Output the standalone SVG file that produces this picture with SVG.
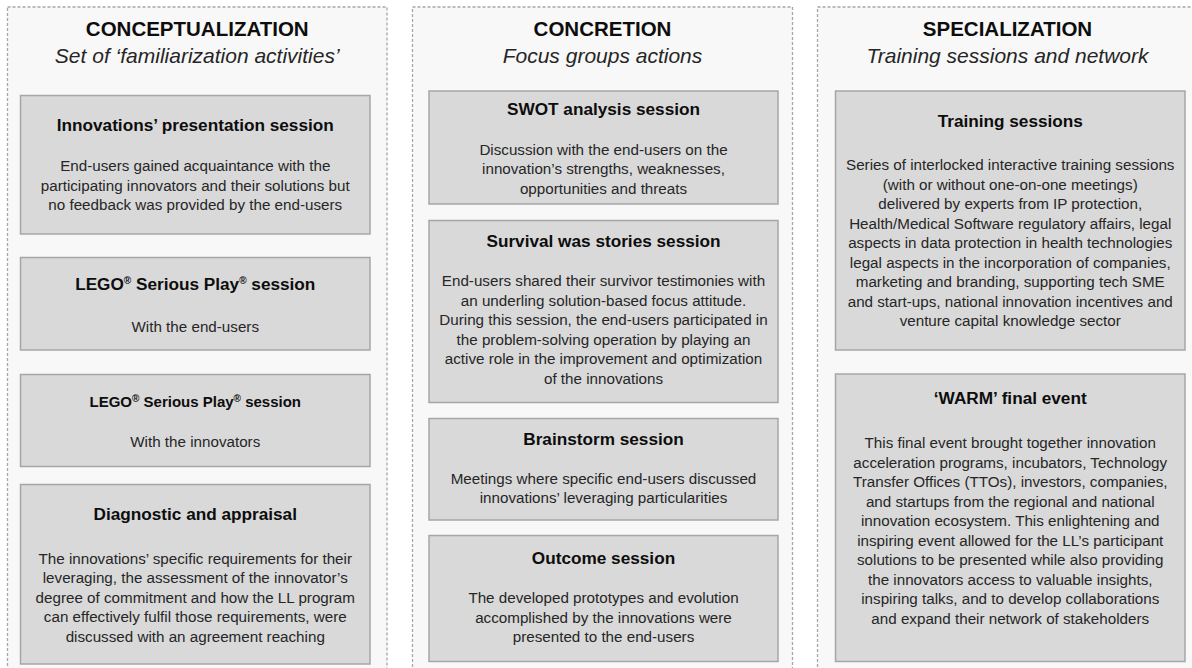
<svg xmlns="http://www.w3.org/2000/svg" width="1192" height="668" viewBox="0 0 1192 668">
<style>
.col{fill:#f8f8f8;stroke:#a6a6a6;stroke-width:1.3;stroke-dasharray:3 2}
.box{fill:#d9d9d9;stroke:#a6a6a6;stroke-width:1.5}
text{font-family:"Liberation Sans",Arial,sans-serif;text-anchor:middle;fill:#1a1a1a}
.h{font-size:20.5px;font-weight:bold;fill:#0d0d0d}
.s{font-size:21px;font-style:italic;fill:#262626}
.t{font-size:17.2px;font-weight:bold;fill:#0d0d0d}
.t2{font-size:15px;font-weight:bold;fill:#0d0d0d}
.b{font-size:15.2px;fill:#262626}
.r{font-size:10px}
</style>
<rect width="1192" height="668" fill="#ffffff"/>
<g id="col-conceptualization">
<rect class="col" x="7.5" y="7" width="379.5" height="670"/>
<text class="h" x="197.25" y="36">CONCEPTUALIZATION</text>
<text class="s" x="197.25" y="63">Set of ‘familiarization activities’</text>
</g>
<g id="col-concretion">
<rect class="col" x="412.5" y="7" width="380" height="670"/>
<text class="h" x="602.5" y="36">CONCRETION</text>
<text class="s" x="602.5" y="63">Focus groups actions</text>
</g>
<g id="col-specialization">
<rect class="col" x="817.5" y="7" width="380" height="670"/>
<text class="h" x="1007.5" y="36">SPECIALIZATION</text>
<text class="s" x="1007.5" y="63">Training sessions and network</text>
</g>
<g id="connectors"></g>
<g id="n-innovations-presentation">
<rect class="box" x="20.5" y="95.5" width="349.5" height="138.5"/>
<text class="t" x="195.25" y="130.5">Innovations’ presentation session</text>
<text class="b" x="195.25" y="171">End-users gained acquaintance with the</text>
<text class="b" x="195.25" y="190.5">participating innovators and their solutions but</text>
<text class="b" x="195.25" y="210">no feedback was provided by the end-users</text>
</g>
<g id="n-lego-endusers">
<rect class="box" x="20.5" y="257.5" width="349.5" height="92.5"/>
<text class="t" x="195.25" y="290">LEGO<tspan class="r" dy="-6">®</tspan><tspan dy="6"> Serious Play</tspan><tspan class="r" dy="-6">®</tspan><tspan dy="6"> session</tspan></text>
<text class="b" x="195.25" y="332">With the end-users</text>
</g>
<g id="n-lego-innovators">
<rect class="box" x="20.5" y="374.5" width="349.5" height="92"/>
<text class="t2" x="195.25" y="406.5">LEGO<tspan class="r" font-size="9" dy="-5">®</tspan><tspan dy="5"> Serious Play</tspan><tspan class="r" font-size="9" dy="-5">®</tspan><tspan dy="5"> session</tspan></text>
<text class="b" x="195.25" y="447">With the innovators</text>
</g>
<g id="n-diagnostic">
<rect class="box" x="20.5" y="484.5" width="349.5" height="179.5"/>
<text class="t" x="195.25" y="519.5">Diagnostic and appraisal</text>
<text class="b" x="195.25" y="563.5">The innovations’ specific requirements for their</text>
<text class="b" x="195.25" y="583">leveraging, the assessment of the innovator’s</text>
<text class="b" x="195.25" y="602.5">degree of commitment and how the LL program</text>
<text class="b" x="195.25" y="622">can effectively fulfil those requirements, were</text>
<text class="b" x="195.25" y="641.5">discussed with an agreement reaching</text>
</g>
<g id="n-swot">
<rect class="box" x="429" y="91" width="349" height="113"/>
<text class="t" x="603.5" y="114.5">SWOT analysis session</text>
<text class="b" x="603.5" y="154.5">Discussion with the end-users on the</text>
<text class="b" x="603.5" y="174">innovation’s strengths, weaknesses,</text>
<text class="b" x="603.5" y="193.5">opportunities and threats</text>
</g>
<g id="n-survival">
<rect class="box" x="429" y="220.5" width="349" height="182"/>
<text class="t" x="603.5" y="247">Survival was stories session</text>
<text class="b" x="603.5" y="286">End-users shared their survivor testimonies with</text>
<text class="b" x="603.5" y="305.5">an underling solution-based focus attitude.</text>
<text class="b" x="603.5" y="325">During this session, the end-users participated in</text>
<text class="b" x="603.5" y="344.5">the problem-solving operation by playing an</text>
<text class="b" x="603.5" y="364">active role in the improvement and optimization</text>
<text class="b" x="603.5" y="383.5">of the innovations</text>
</g>
<g id="n-brainstorm">
<rect class="box" x="429" y="418.5" width="349" height="101.5"/>
<text class="t" x="603.5" y="445">Brainstorm session</text>
<text class="b" x="603.5" y="483.5">Meetings where specific end-users discussed</text>
<text class="b" x="603.5" y="503">innovations’ leveraging particularities</text>
</g>
<g id="n-outcome">
<rect class="box" x="429" y="535.5" width="349" height="126"/>
<text class="t" x="603.5" y="564">Outcome session</text>
<text class="b" x="603.5" y="603">The developed prototypes and evolution</text>
<text class="b" x="603.5" y="622.5">accomplished by the innovations were</text>
<text class="b" x="603.5" y="642">presented to the end-users</text>
</g>
<g id="n-training">
<rect class="box" x="835.5" y="91" width="349.5" height="259"/>
<text class="t" x="1010.25" y="126.5">Training sessions</text>
<text class="b" x="1010.25" y="170">Series of interlocked interactive training sessions</text>
<text class="b" x="1010.25" y="189.5">(with or without one-on-one meetings)</text>
<text class="b" x="1010.25" y="209">delivered by experts from IP protection,</text>
<text class="b" x="1010.25" y="228.5">Health/Medical Software regulatory affairs, legal</text>
<text class="b" x="1010.25" y="248">aspects in data protection in health technologies</text>
<text class="b" x="1010.25" y="267.5">legal aspects in the incorporation of companies,</text>
<text class="b" x="1010.25" y="287">marketing and branding, supporting tech SME</text>
<text class="b" x="1010.25" y="306.5">and start-ups, national innovation incentives and</text>
<text class="b" x="1010.25" y="326">venture capital knowledge sector</text>
</g>
<g id="n-warm">
<rect class="box" x="835.5" y="374" width="349.5" height="287.5"/>
<text class="t" x="1010.25" y="404">‘WARM’ final event</text>
<text class="b" x="1010.25" y="448">This final event brought together innovation</text>
<text class="b" x="1010.25" y="467.5">acceleration programs, incubators, Technology</text>
<text class="b" x="1010.25" y="487">Transfer Offices (TTOs), investors, companies,</text>
<text class="b" x="1010.25" y="506.5">and startups from the regional and national</text>
<text class="b" x="1010.25" y="526">innovation ecosystem. This enlightening and</text>
<text class="b" x="1010.25" y="545.5">inspiring event allowed for the LL’s participant</text>
<text class="b" x="1010.25" y="565">solutions to be presented while also providing</text>
<text class="b" x="1010.25" y="584.5">the innovators access to valuable insights,</text>
<text class="b" x="1010.25" y="604">inspiring talks, and to develop collaborations</text>
<text class="b" x="1010.25" y="623.5">and expand their network of stakeholders</text>
</g>
</svg>
